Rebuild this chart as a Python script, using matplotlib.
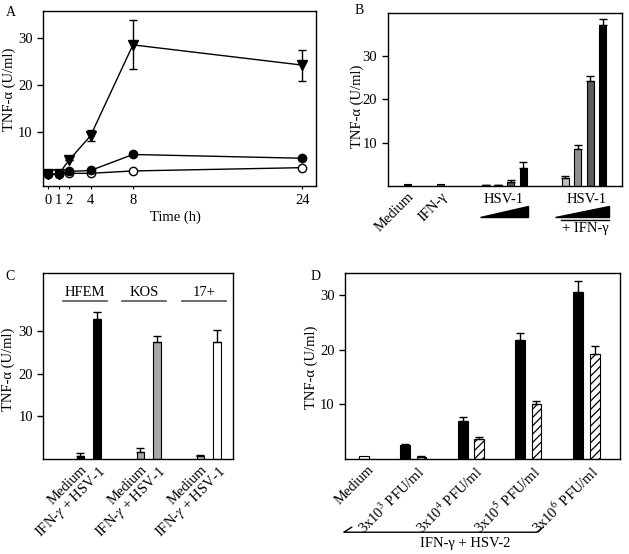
import matplotlib
matplotlib.use("Agg")
from matplotlib import pyplot as plt
from matplotlib.patches import Polygon
import matplotlib.transforms as mtrans

plt.rcParams['font.family'] = 'serif'
plt.rcParams['font.serif'] = ['Liberation Serif', 'DejaVu Serif']
plt.rcParams['mathtext.fontset'] = 'stix'
plt.rcParams['font.size'] = 10
plt.rcParams['hatch.linewidth'] = 0.9

# ---- panel A: time course
times = [0, 1, 2, 4, 8, 24]
tri_vals = [1.1, 1.1, 4.1, 9.2, 28.5, 24.2]
tri_err = [0, 0, 0, 1.1, 5.2, 3.3]
fill_vals = [1.1, 1.1, 1.6, 1.8, 5.2, 4.4]
open_vals = [1.1, 1.1, 1.2, 1.2, 1.7, 2.4]
time_ticks = ['0', '1', '2', '4', '8', '24']

# ---- panel B
b_single = [0.4, 0.4]
b_hsv = [0.3, 0.3, 1.0, 4.2]
b_hsv_err = [0, 0, 0.4, 1.4]
b_hsv_ifn = [1.8, 8.5, 24.3, 37.2]
b_hsv_ifn_err = [0.5, 1.0, 1.2, 1.4]
b_labels = ['Medium', 'IFN-γ']

# ---- panel C
c_strains = ['HFEM', 'KOS', '17+']
c_medium = [0.8, 1.7, 0.6]
c_medium_err = [0.5, 0.8, 0.3]
c_treated = [32.8, 27.4, 27.4]
c_treated_err = [1.5, 1.4, 2.8]
c_labels = ['Medium', 'IFN-$\\gamma$ + HSV-1']

# ---- panel D
d_medium = 0.6
d_black = [2.6, 7.0, 21.8, 30.5]
d_black_err = [0.1, 0.6, 1.2, 2.1]
d_hatch = [0.4, 3.6, 10.0, 19.3]
d_hatch_err = [0.1, 0.5, 0.6, 1.3]
d_labels = ['Medium', '3x10$^3$ PFU/ml', '3x10$^4$ PFU/ml',
            '3x10$^5$ PFU/ml', '3x10$^6$ PFU/ml']

W, H = 629, 554
fig = plt.figure(figsize=(W / 100, H / 100), dpi=100)


def add_ax(left, top, right, bottom):
    return fig.add_axes([left / W, 1 - bottom / H, (right - left) / W, (bottom - top) / H])


def style(ax):
    for s in ax.spines.values():
        s.set_linewidth(1.0)
    ax.tick_params(axis='y', direction='out', length=4, width=1, labelsize=10.5)


ekw = dict(elinewidth=1, capthick=1)

# A
axA = add_ax(43, 11, 316, 186)
style(axA)
axA.plot(times, open_vals, 'k-', lw=1, marker='o', mfc='white', mec='k', ms=6, zorder=3)
axA.plot(times, fill_vals, 'k-', lw=1, marker='o', mfc='k', mec='k', ms=6, zorder=3)
axA.errorbar(times, tri_vals, yerr=tri_err, fmt='kv-', lw=1, ms=6.5, capsize=3, elinewidth=1, zorder=4)
axA.set_xlim(-0.5, 25.3)
axA.set_ylim(-1.5, 35.7)
axA.set_yticks([10, 20, 30])
axA.set_xticks(times)
axA.set_xticklabels(time_ticks)
axA.tick_params(axis='x', direction='out', length=2, labelsize=10.5)
axA.set_xlabel('Time (h)', fontsize=10.5)
axA.xaxis.set_label_coords(0.485, -0.14)
axA.set_ylabel('TNF-α (U/ml)', fontsize=10.5)
axA.yaxis.set_label_coords(-0.1, 0.55)
fig.text(11 / W, 1 - 12 / H, 'A', fontsize=10, ha='center', va='center')

# B
axB = add_ax(387.7, 12.7, 621.7, 186)
style(axB)
bw = 0.56
single_x = [1.6, 4.25]
hsv_x = [7.85 + i for i in range(4)]
ifn_x = [14.2 + i for i in range(4)]
grays = ['#c0c0c0', '#909090', '#5a5a5a', 'black']
axB.bar(single_x, b_single, width=bw, color=['black', '#555555'], edgecolor='k', lw=0.8)
axB.bar(hsv_x, b_hsv, width=bw, color=['black', '#404040', '#5a5a5a', 'black'], edgecolor='k', lw=0.8,
        yerr=[[0] * 4, b_hsv_err], capsize=3, error_kw=ekw)
axB.bar(ifn_x, b_hsv_ifn, width=bw, color=grays, edgecolor='k', lw=0.8,
        yerr=[[0] * 4, b_hsv_ifn_err], capsize=3, error_kw=ekw)
axB.set_xlim(0, 18.72)
axB.set_ylim(0, 40)
axB.set_yticks([10, 20, 30])
axB.set_xticks(single_x)
axB.set_xticklabels(b_labels, rotation=45, ha='right', va='top', rotation_mode='anchor', fontsize=10.5)
axB.tick_params(axis='x', length=0, pad=3)
axB.set_ylabel('TNF-α (U/ml)', fontsize=10.5)
axB.yaxis.set_label_coords(-0.1, 0.46)
trB = mtrans.blended_transform_factory(axB.transData, axB.transAxes)
for x0, x1, xc in [(7.38, 11.25, 9.3), (13.38, 17.7, 15.9)]:
    axB.add_patch(Polygon([(x0, -0.177), (x1, -0.177), (x1, -0.113)], closed=True,
                          facecolor='black', edgecolor='black', transform=trB, clip_on=False))
    axB.text(xc, -0.08, 'HSV-1', transform=trB, ha='center', va='center', fontsize=10.5)
axB.plot([13.9, 17.7], [-0.199, -0.199], 'k-', lw=1, transform=trB, clip_on=False)
axB.text(15.8, -0.248, '+ IFN-γ', transform=trB, ha='center', va='center', fontsize=10.5)
fig.text(359 / W, 1 - 11 / H, 'B', fontsize=10, ha='center', va='center')

# C
axC = add_ax(43.3, 272.7, 233.3, 459)
style(axC)
cw = 0.13
c_fill_med = ['black', '#a8a8a8', '#c8c8c8']
c_fill_trt = ['black', '#a8a8a8', 'white']
med_x = [0.62 + i for i in range(3)]
trt_x = [0.9 + i for i in range(3)]
axC.bar(med_x, c_medium, width=cw, color=c_fill_med, edgecolor='k', lw=0.8,
        yerr=[[0] * 3, c_medium_err], capsize=3, error_kw=ekw)
axC.bar(trt_x, c_treated, width=cw, color=c_fill_trt, edgecolor='k', lw=0.8,
        yerr=[[0] * 3, c_treated_err], capsize=3, error_kw=ekw)
axC.set_xlim(0, 3.167)
axC.set_ylim(0, 43.6)
axC.set_yticks([10, 20, 30])
xs_c = []
labs_c = []
for i in range(3):
    xs_c += [med_x[i], trt_x[i]]
    labs_c += c_labels
axC.set_xticks(xs_c)
axC.set_xticklabels(labs_c, rotation=45, ha='right', va='top', rotation_mode='anchor', fontsize=10.5)
axC.tick_params(axis='x', length=0, pad=3)
trC = mtrans.blended_transform_factory(axC.transData, axC.transAxes)
for i, name in enumerate(c_strains):
    xc = 0.69 + i * 0.995
    axC.plot([xc - 0.365, xc + 0.365], [0.848, 0.848], color='#555555', lw=1.2, transform=trC)
    axC.text(xc, 0.858, name, transform=trC, ha='center', va='bottom', fontsize=10.5)
axC.set_ylabel('TNF-α (U/ml)', fontsize=10.5)
axC.yaxis.set_label_coords(-0.15, 0.48)
fig.text(10 / W, 1 - 277 / H, 'C', fontsize=10, ha='center', va='center')

# D
axD = add_ax(345, 272.7, 620, 459)
style(axD)
dw = 0.17
centers = [1.18, 2.18, 3.17, 4.18]
med_xd = 0.334
axD.bar([med_xd], [d_medium], width=dw, color='white', edgecolor='k', lw=0.8)
axD.bar([c - 0.144 for c in centers], d_black, width=dw, color='black', edgecolor='k', lw=0.8,
        yerr=[[0] * 4, d_black_err], capsize=3, error_kw=ekw)
axD.bar([c + 0.144 for c in centers], d_hatch, width=dw, color='white', edgecolor='k', lw=0.8,
        hatch='////',
        yerr=[[0] * 4, d_hatch_err], capsize=3, error_kw=ekw)
axD.set_xlim(0, 4.76)
axD.set_ylim(0, 34.1)
axD.set_yticks([10, 20, 30])
axD.set_xticks([med_xd + 0.05] + [c + 0.06 for c in centers])
axD.set_xticklabels(d_labels, rotation=45, ha='right', va='top', rotation_mode='anchor', fontsize=10.5)
axD.tick_params(axis='x', length=0, pad=3)
trD = mtrans.blended_transform_factory(axD.transData, axD.transAxes)
axD.plot([0.116, -0.02, 3.32, 3.43], [-0.366, -0.393, -0.393, -0.366], 'k-', lw=1,
         transform=trD, clip_on=False)
axD.text(2.08, -0.451, 'IFN-γ + HSV-2', transform=trD, ha='center', va='center', fontsize=10.5)
axD.set_ylabel('TNF-α (U/ml)', fontsize=10.5)
axD.yaxis.set_label_coords(-0.1, 0.49)
fig.text(316 / W, 1 - 277 / H, 'D', fontsize=10, ha='center', va='center')

fig.savefig('out.png', dpi=100)
